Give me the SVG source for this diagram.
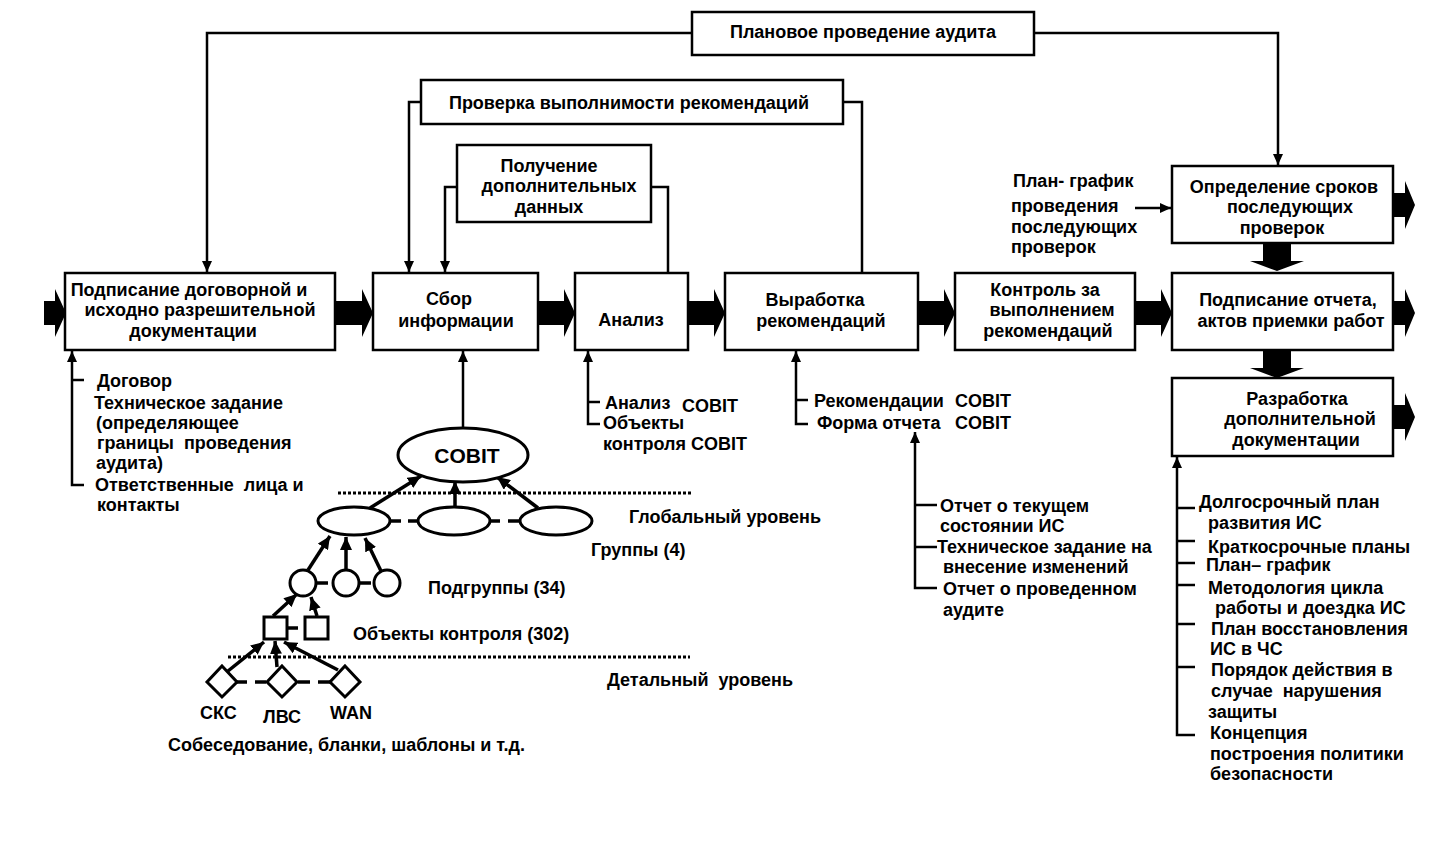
<svg xmlns="http://www.w3.org/2000/svg" width="1448" height="857" viewBox="0 0 1448 857">
<style>
text{font-family:"Liberation Sans",Arial,sans-serif;font-weight:bold;font-size:18px;fill:#000;white-space:pre}
.c{text-anchor:middle}
.box{fill:#fff;stroke:#000;stroke-width:2.5}
.ln{fill:none;stroke:#000;stroke-width:2.5}
.ar{fill:none;stroke:#000;stroke-width:2.5;marker-end:url(#ah)}
.tr{fill:none;stroke:#000;stroke-width:3.5;marker-end:url(#ah2)}
.dot{stroke:#000;stroke-width:3;stroke-dasharray:3 2}
.sh{fill:#fff;stroke:#000;stroke-width:3}
.blk{fill:#000}
</style>
<defs>
<marker id="ah" markerUnits="userSpaceOnUse" markerWidth="12" markerHeight="10" refX="11" refY="5" orient="auto"><path d="M0,0 L11,5 L0,10 z" fill="#000"/></marker>
<marker id="ah2" markerUnits="userSpaceOnUse" markerWidth="14" markerHeight="12" refX="13" refY="6" orient="auto"><path d="M0,0 L13,6 L0,12 z" fill="#000"/></marker>
</defs>
<rect width="1448" height="857" fill="#fff"/>

<g id="connectors">
<polyline class="ar" points="692,33 207,33 207,272"/>
<polyline class="ar" points="1034,33 1278,33 1278,165"/>
<polyline class="ar" points="421,102 409,102 409,272"/>
<polyline class="ln" points="843,102 862,102 862,273"/>
<polyline class="ar" points="457,187 445,187 445,272"/>
<polyline class="ln" points="651,187 668,187 668,273"/>
<polyline class="ar" points="84,485 72,485 72,351"/>
<line class="ln" x1="72" y1="380" x2="84" y2="380"/>
<line class="ar" x1="463" y1="428" x2="463" y2="351"/>
<polyline class="ar" points="600,424 588,424 588,351"/>
<line class="ln" x1="588" y1="402" x2="600" y2="402"/>
<polyline class="ar" points="808,424 796,424 796,351"/>
<line class="ln" x1="796" y1="400" x2="808" y2="400"/>
<polyline class="ar" points="937,588 915,588 915,432"/>
<line class="ln" x1="915" y1="505" x2="937" y2="505"/>
<line class="ln" x1="915" y1="547" x2="937" y2="547"/>
<polyline class="ar" points="1195,735 1177,735 1177,457"/>
<line class="ln" x1="1177" y1="508" x2="1195" y2="508"/>
<line class="ln" x1="1177" y1="541" x2="1195" y2="541"/>
<line class="ln" x1="1177" y1="563" x2="1195" y2="563"/>
<line class="ln" x1="1177" y1="585" x2="1195" y2="585"/>
<line class="ln" x1="1177" y1="624" x2="1195" y2="624"/>
<line class="ln" x1="1177" y1="667" x2="1195" y2="667"/>
<line class="ar" x1="1135" y1="208" x2="1171" y2="208"/>

<polygon class="blk" points="44,301 55,301 55,289 66,313 55,337 55,325 44,325"/>
<polygon class="blk" points="335,301 362,301 362,289 373,313 362,337 362,325 335,325"/>
<polygon class="blk" points="538,301 564,301 564,289 575,313 564,337 564,325 538,325"/>
<polygon class="blk" points="688,301 714,301 714,289 725,313 714,337 714,325 688,325"/>
<polygon class="blk" points="918,301 944,301 944,289 955,313 944,337 944,325 918,325"/>
<polygon class="blk" points="1135,301 1161,301 1161,289 1172,313 1161,337 1161,325 1135,325"/>
<polygon class="blk" points="1393,301 1405,301 1405,289 1415,313 1405,337 1405,325 1393,325"/>
<polygon class="blk" points="1393,193 1405,193 1405,181 1415,205 1405,229 1405,217 1393,217"/>
<polygon class="blk" points="1393,405 1405,405 1405,393 1415,417 1405,441 1405,429 1393,429"/>
<polygon class="blk" points="1263,243 1291,243 1291,261 1304,261 1277,271 1250,261 1263,261"/>
<polygon class="blk" points="1263,350 1291,350 1291,368 1304,368 1277,378 1250,368 1263,368"/>
</g>

<g id="n-plan"><rect class="box" x="692" y="12" width="342" height="43"/><text class="c" x="863" y="38">Плановое проведение аудита</text></g>
<g id="n-prov"><rect class="box" x="421" y="80" width="422" height="44"/><text class="c" x="629" y="109">Проверка выполнимости рекомендаций</text></g>
<g id="n-poluch"><rect class="box" x="457" y="145" width="194" height="77"/><text class="c" x="549" y="172">Получение</text><text class="c" x="559" y="192">дополнительных</text><text class="c" x="549" y="213">данных</text></g>
<g id="n-b1"><rect class="box" x="65" y="273" width="270" height="77"/><text class="c" x="189" y="296">Подписание договорной и</text><text class="c" x="200" y="316">исходно разрешительной</text><text class="c" x="193" y="337">документации</text></g>
<g id="n-b2"><rect class="box" x="373" y="273" width="165" height="77"/><text class="c" x="449" y="305">Сбор</text><text class="c" x="456" y="327">информации</text></g>
<g id="n-b3"><rect class="box" x="575" y="273" width="113" height="77"/><text class="c" x="631" y="326">Анализ</text></g>
<g id="n-b4"><rect class="box" x="725" y="273" width="193" height="77"/><text class="c" x="815" y="306">Выработка</text><text class="c" x="821" y="327">рекомендаций</text></g>
<g id="n-b5"><rect class="box" x="955" y="273" width="180" height="77"/><text class="c" x="1045" y="296">Контроль за</text><text class="c" x="1052" y="316">выполнением</text><text class="c" x="1048" y="337">рекомендаций</text></g>
<g id="n-b6"><rect class="box" x="1172" y="273" width="221" height="77"/><text class="c" x="1288" y="306">Подписание отчета,</text><text class="c" x="1291" y="327">актов приемки работ</text></g>
<g id="n-b7"><rect class="box" x="1172" y="166" width="221" height="77"/><text class="c" x="1284" y="193">Определение сроков</text><text class="c" x="1290" y="213">последующих</text><text class="c" x="1282" y="234">проверок</text></g>
<g id="n-b8"><rect class="box" x="1172" y="378" width="221" height="78"/><text class="c" x="1297" y="405">Разработка</text><text class="c" x="1300" y="425">дополнительной</text><text class="c" x="1296" y="446">документации</text></g>

<g id="l-b1">
<text x="97" y="387">Договор</text>
<text x="94" y="409">Техническое задание</text>
<text x="96" y="429">(определяющее</text>
<text x="97" y="449" xml:space="preserve">границы  проведения</text>
<text x="96" y="469">аудита)</text>
<text x="95" y="491" xml:space="preserve">Ответственные  лица и</text>
<text x="97" y="511">контакты</text>
</g>
<g id="l-b3">
<text x="605" y="409">Анализ</text><text x="682" y="412">COBIT</text>
<text x="603" y="429">Объекты</text>
<text x="603" y="450">контроля COBIT</text>
</g>
<g id="l-b4">
<text x="814" y="407">Рекомендации</text><text x="955" y="407">COBIT</text>
<text x="817" y="429">Форма отчета</text><text x="955" y="429">COBIT</text>
</g>
<g id="l-rep">
<text x="940" y="512">Отчет о текущем</text>
<text x="940" y="532">состоянии ИС</text>
<text x="937" y="553">Техническое задание на</text>
<text x="943" y="573">внесение изменений</text>
<text x="943" y="595">Отчет о проведенном</text>
<text x="943" y="616">аудите</text>
</g>
<g id="l-plan">
<text x="1013" y="187">План- график</text>
<text x="1011" y="212">проведения</text>
<text x="1011" y="233">последующих</text>
<text x="1011" y="253">проверок</text>
</g>
<g id="l-b8">
<text x="1199" y="508">Долгосрочный план</text>
<text x="1208" y="529">развития ИС</text>
<text x="1208" y="553">Краткосрочные планы</text>
<text x="1206" y="571">План– график</text>
<text x="1208" y="594">Методология цикла</text>
<text x="1215" y="614">работы и доездка ИС</text>
<text x="1211" y="635">План восстановления</text>
<text x="1210" y="655">ИС в ЧС</text>
<text x="1211" y="676">Порядок действия в</text>
<text x="1211" y="697" xml:space="preserve">случае  нарушения</text>
<text x="1208" y="718">защиты</text>
<text x="1210" y="739">Концепция</text>
<text x="1210" y="760">построения политики</text>
<text x="1210" y="780">безопасности</text>
</g>

<g id="cobit-tree">
<line class="dot" x1="338" y1="493" x2="692" y2="493"/>
<line class="dot" x1="228" y1="657" x2="690" y2="657"/>
<line class="tr" x1="370" y1="508" x2="421" y2="476"/>
<line class="tr" x1="455" y1="507" x2="455" y2="481"/>
<line class="tr" x1="538" y1="508" x2="497" y2="477"/>
<line class="tr" x1="308" y1="570" x2="330" y2="536"/>
<line class="tr" x1="346" y1="570" x2="346" y2="537"/>
<line class="tr" x1="381" y1="571" x2="365" y2="538"/>
<line class="tr" x1="273" y1="616" x2="297" y2="594"/>
<line class="tr" x1="317" y1="616" x2="311" y2="597"/>
<line class="tr" x1="228" y1="671" x2="264" y2="642"/>
<line class="tr" x1="277" y1="667" x2="275" y2="641"/>
<line class="tr" x1="338" y1="670" x2="284" y2="642"/>
<g class="ln" style="stroke-width:3.5">
<line x1="391" y1="521" x2="401" y2="521"/><line x1="408" y1="521" x2="418" y2="521"/>
<line x1="490" y1="521" x2="500" y2="521"/><line x1="508" y1="521" x2="520" y2="521"/>
<line x1="316" y1="583" x2="328" y2="583"/><line x1="359" y1="583" x2="371" y2="583"/>
<line x1="287" y1="628" x2="298" y2="628"/>
<line x1="237" y1="682" x2="247" y2="682"/><line x1="255" y1="682" x2="266" y2="682"/>
<line x1="298" y1="682" x2="310" y2="682"/><line x1="318" y1="682" x2="330" y2="682"/>
</g>
<g id="n-cobit"><ellipse class="sh" cx="463" cy="455" rx="65" ry="27"/><text class="c" x="467" y="463" style="font-size:21px">COBIT</text></g>
<ellipse class="sh" cx="354" cy="521" rx="36" ry="14"/>
<ellipse class="sh" cx="454" cy="521" rx="36" ry="14"/>
<ellipse class="sh" cx="556" cy="521" rx="36" ry="14"/>
<circle class="sh" cx="303" cy="583" r="13"/>
<circle class="sh" cx="346" cy="583" r="13"/>
<circle class="sh" cx="387" cy="583" r="13"/>
<rect class="sh" x="264" y="617" width="23" height="22"/>
<rect class="sh" x="305" y="617" width="23" height="22"/>
<polygon class="sh" points="222,666 237,682 222,697 207,682"/>
<polygon class="sh" points="282,666 297,682 282,697 267,682"/>
<polygon class="sh" points="345,666 360,682 345,697 330,682"/>
<text x="629" y="523">Глобальный уровень</text>
<text x="591" y="556">Группы (4)</text>
<text x="428" y="594">Подгруппы (34)</text>
<text x="353" y="640">Объекты контроля (302)</text>
<text x="607" y="686" xml:space="preserve">Детальный  уровень</text>
<text x="200" y="719">СКС</text>
<text x="263" y="723">ЛВС</text>
<text x="330" y="719">WAN</text>
<text x="168" y="751">Собеседование, бланки, шаблоны и т.д.</text>
</g>
</svg>
